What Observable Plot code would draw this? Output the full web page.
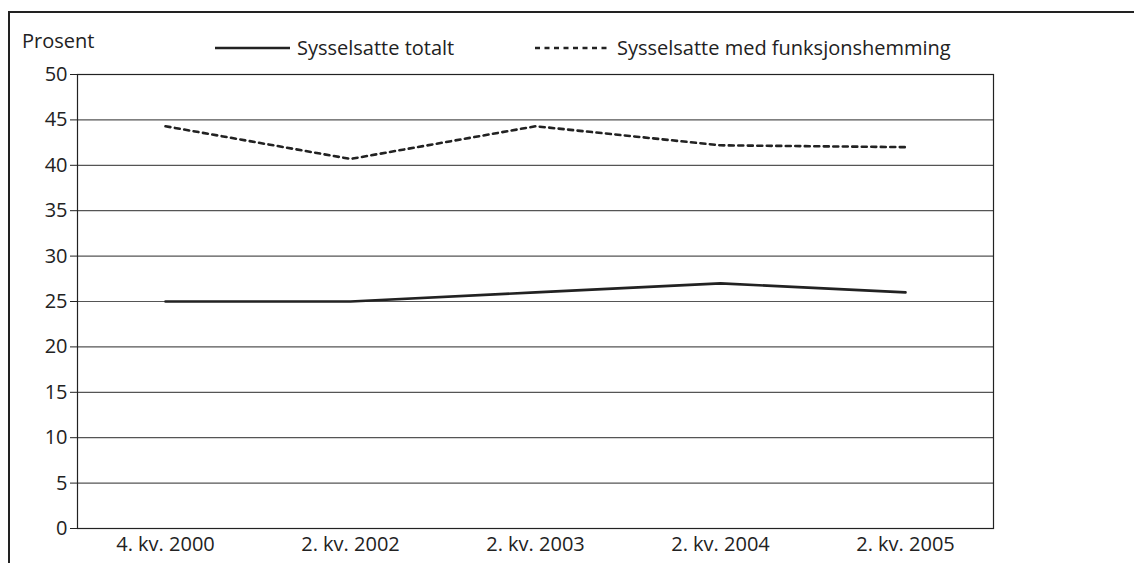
<!DOCTYPE html>
<html>
<head>
<meta charset="utf-8">
<script src="https://cdn.jsdelivr.net/npm/d3@7"></script>
<script src="https://cdn.jsdelivr.net/npm/@observablehq/plot@0.6"></script>
<style>
  html, body { margin: 0; padding: 0; background: #fff; }
  #wrap { position: relative; width: 1134px; height: 563px; overflow: hidden; font-family: "Open Sans", sans-serif; color: #222; }
  #border { position: absolute; left: 8px; top: 11px; width: 1200px; height: 700px; border-left: 2px solid #222; border-top: 2px solid #222; box-sizing: border-box; }
  #chart { position: absolute; left: 0; top: 0; }
  .lab { position: absolute; font-size: 20px; white-space: nowrap; line-height: 1; }
  .leg { position: absolute; display: flex; align-items: center; font-size: 20px; white-space: nowrap; line-height: 1; }
  .leg svg { margin-right: 7px; }
</style>
</head>
<body>
<div id="wrap">
  <div id="border"></div>
  <div id="chart"></div>
  <div class="lab" style="left:22px; top:31px;">Prosent</div>
  <div id="legend"></div>
</div>
<script>
const categories = ["4. kv. 2000", "2. kv. 2002", "2. kv. 2003", "2. kv. 2004", "2. kv. 2005"];
const totalt = [25, 25, 26, 27, 26];
const funksjonshemming = [44.3, 40.7, 44.3, 42.2, 42.0];
const seriesNames = ["Sysselsatte totalt", "Sysselsatte med funksjonshemming"];
const yTicks = [0, 5, 10, 15, 20, 25, 30, 35, 40, 45, 50];

const rows = [];
categories.forEach((c, i) => {
  rows.push({cat: c, value: totalt[i], series: seriesNames[0]});
  rows.push({cat: c, value: funksjonshemming[i], series: seriesNames[1]});
});

const chart = Plot.plot({
  width: 1134,
  height: 563,
  marginLeft: 77,
  marginRight: 141,
  marginTop: 74,
  marginBottom: 35,
  style: {fontFamily: "Open Sans, sans-serif", fontSize: "20px", color: "#222", background: "transparent"},
  x: {type: "point", domain: categories, padding: 0.47, label: null},
  y: {domain: [0, 50], ticks: yTicks, label: null},
  marks: [
    Plot.ruleY(yTicks, {stroke: "#555", strokeWidth: 1.2}),
    Plot.frame({stroke: "#222", strokeWidth: 1.2}),
    Plot.axisY({ticks: yTicks, tickSize: 7, tickPadding: 3, stroke: "#222", fill: "#222", fontSize: 20, label: null}),
    Plot.axisX({tickSize: 0, tickPadding: 8, fill: "#222", fontSize: 20, label: null}),
    Plot.line(rows.filter(d => d.series === seriesNames[0]), {x: "cat", y: "value", stroke: "#222", strokeWidth: 2.6}),
    Plot.line(rows.filter(d => d.series === seriesNames[1]), {x: "cat", y: "value", stroke: "#222", strokeWidth: 2.6, strokeDasharray: "5,4.5"})
  ]
});
document.getElementById("chart").appendChild(chart);

// legend
const legend = document.getElementById("legend");
const legItems = [
  {name: seriesNames[0], dash: null, left: 215},
  {name: seriesNames[1], dash: "5,4.5", left: 535}
];
legItems.forEach(it => {
  const div = document.createElement("div");
  div.className = "leg";
  div.style.left = it.left + "px";
  div.style.top = "38px";
  div.innerHTML = `<svg width="75" height="6"><line x1="0" x2="75" y1="3" y2="3" stroke="#222" stroke-width="2.6" ${it.dash ? `stroke-dasharray="${it.dash}"` : ""}/></svg><span>${it.name}</span>`;
  legend.appendChild(div);
});
</script>
</body>
</html>
